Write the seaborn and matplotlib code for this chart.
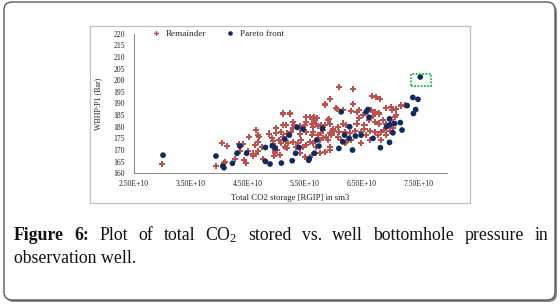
import numpy as np
import pandas as pd
import seaborn as sns
import matplotlib.pyplot as plt
from matplotlib.patches import FancyBboxPatch, Rectangle
from matplotlib.transforms import IdentityTransform
from matplotlib.ticker import FuncFormatter

# Values (x in units of 1e10 sm3, y in bar)
remainder_x = [3.00, 3.94, 4.08, 4.05, 4.13, 4.10, 4.27, 4.34, 4.41, 4.37, 4.44, 4.47,
               4.52, 4.51, 4.59, 4.59, 4.64, 4.65, 4.62, 4.68, 4.70, 4.68, 4.68, 4.75,
               4.77, 4.87, 4.92, 4.95, 4.94, 4.97, 4.98, 4.98, 4.96, 5.00, 5.00, 5.04,
               5.02,
               5.11, 5.29, 5.32, 5.59, 5.64, 5.67, 6.05, 6.17, 6.32, 6.41, 6.46, 6.52,
               6.67, 6.70, 6.73, 6.81, 6.92, 7.01, 7.03, 7.11, 7.19, 7.27,
               5.11, 5.17, 5.29, 5.42, 5.50, 5.53, 5.62, 5.64, 5.69, 5.73, 5.79, 5.85,
               5.91, 5.94, 6.00, 6.08, 6.17, 6.23, 6.41, 6.46, 6.55, 6.63, 6.73, 6.81,
               6.87, 6.93, 7.05, 7.08, 7.11,
               5.09, 5.12, 5.18, 5.26, 5.41, 5.53, 5.62, 5.64, 5.73, 5.79, 5.82, 5.88,
               5.94, 5.97, 6.02, 6.11, 6.20, 6.29, 6.38, 6.49, 6.55, 6.64, 6.73, 6.79,
               6.84, 6.90, 6.99, 7.05,
               5.09, 5.15, 5.21, 5.29, 5.35, 5.38, 5.44, 5.47, 5.53, 5.59, 5.64, 5.70,
               5.76, 5.82, 5.91, 5.94, 6.08, 6.14, 6.20, 6.23, 6.32, 6.49, 6.58, 6.64,
               6.84, 6.93,
               5.06, 5.18, 5.41, 5.50, 5.62, 5.76, 5.85, 5.94,
               5.12, 5.53, 5.60, 5.66, 5.71, 5.85, 5.94, 6.06, 6.10, 5.93, 6.34, 6.69,
               6.76, 6.83, 6.35, 7.20, 5.24, 5.85]
remainder_y = [163.9, 163.1, 164.3, 173.1, 171.6, 164.7, 166.0, 172.7, 172.6, 169.5, 165.7, 164.3,
               175.7, 169.7, 168.5, 167.4, 178.6, 168.3, 172.0, 176.3, 175.7, 173.5, 169.6, 171.4,
               166.3, 177.1, 175.0, 174.0, 172.6, 171.2, 169.8, 168.6, 167.3, 179.3, 177.2, 174.5,
               170.0,
               185.4, 182.1, 180.7, 184.0, 183.6, 183.1, 187.9, 187.1, 186.9, 186.4, 187.1, 185.0,
               187.1, 184.6, 186.4, 185.7, 187.9, 188.6, 187.1, 187.7, 189.1, 189.3,
               180.7, 180.7, 179.3, 180.3, 180.7, 182.1, 181.4, 180.0, 181.1, 180.3, 180.7, 180.7,
               182.9, 181.1, 178.9, 180.0, 181.4, 180.7, 181.4, 183.6, 180.7, 182.9, 182.1, 181.4,
               182.9, 181.1, 182.1, 184.3, 185.0,
               177.9, 175.7, 177.1, 177.9, 177.1, 177.9, 176.4, 177.9, 176.4, 177.4, 178.6, 175.7,
               177.4, 176.4, 178.3, 177.9, 177.9, 177.4, 178.3, 177.9, 178.9, 178.3, 177.9, 176.4,
               177.9, 178.6, 178.1, 179.3,
               172.9, 171.4, 172.9, 173.6, 171.4, 172.9, 174.3, 171.4, 172.1, 173.6, 172.9, 171.4,
               174.3, 175.0, 174.3, 171.4, 175.7, 174.3, 172.9, 173.6, 174.3, 172.9, 176.4, 174.3,
               174.3, 176.4,
               167.9, 170.7, 168.6, 167.1, 167.9, 168.6, 169.3, 170.0,
               186.1, 184.0, 184.0, 184.0, 183.6, 189.6, 192.1, 187.6, 197.1, 183.2, 196.1, 193.1,
               192.6, 191.8, 189.6, 189.4, 185.7, 189.5]

pareto_x = [3.01, 3.94, 4.06, 4.08, 4.23, 4.31, 4.36, 4.48, 4.81, 4.81, 4.89, 4.93,
            4.98, 5.09, 5.15, 5.23, 5.34, 5.28, 5.58, 5.57, 5.67, 5.75, 5.71, 5.81,
            5.37, 5.47, 5.40, 6.14, 6.10, 6.17, 6.20, 6.28, 6.29, 6.34, 6.39, 6.49,
            6.61, 6.58, 6.63, 6.70, 6.83, 6.94, 6.99, 6.99, 7.05, 7.08, 6.99, 7.18,
            7.21, 7.30, 7.40, 7.49, 7.41, 7.45, 7.53]
pareto_y = [167.8, 167.4, 163.1, 162.4, 164.3, 168.6, 171.7, 168.6, 165.1, 171.1, 164.0, 171.8,
            170.9, 164.4, 174.6, 176.4, 168.6, 165.4, 166.3, 165.6, 168.6, 171.7, 174.3, 179.3,
            179.7, 179.0, 171.1, 186.4, 170.7, 173.5, 176.4, 175.0, 180.0, 170.0, 176.0, 176.4,
            187.4, 186.4, 184.1, 175.0, 171.0, 180.1, 180.8, 173.3, 177.4, 181.4, 183.4, 181.8,
            178.6, 189.1, 192.6, 191.8, 185.7, 187.4, 201.4]

highlight_x = [7.37, 7.72]
highlight_y = [197.5, 202.8]

x_ticks = [2.5, 3.5, 4.5, 5.5, 6.5, 7.5]
y_ticks = list(range(160, 221, 5))

caption_line1 = ["Figure", "6:", "Plot", "of", "total", r"CO$\mathrm{_2}$", "stored", "vs.",
                 "well", "bottomhole", "pressure", "in"]
caption_line2 = "observation well."

W, H = 560, 306
serif = ['Liberation Serif', 'DejaVu Serif']

sns.set_style("white")
plt.rcParams['font.family'] = serif
plt.rcParams['mathtext.fontset'] = 'custom'
plt.rcParams['mathtext.rm'] = 'Liberation Serif'

df = pd.concat([
    pd.DataFrame({'x': np.array(remainder_x) * 1e10, 'y': remainder_y, 'set': 'Remainder'}),
    pd.DataFrame({'x': np.array(pareto_x) * 1e10, 'y': pareto_y, 'set': 'Pareto front'}),
])

fig = plt.figure(figsize=(W / 100, H / 100), dpi=100)
fig.patch.set_facecolor('white')

# outer rounded frame with a shadow, and the chart frame
px = IdentityTransform()
fig.patches.append(FancyBboxPatch((6, H - 302), 551, 298, boxstyle="round,pad=0,rounding_size=8",
                                  transform=px, fc='#8a8a8a', ec='none', zorder=-3))
fig.patches.append(FancyBboxPatch((4, H - 300), 551, 298, boxstyle="round,pad=0,rounding_size=8",
                                  transform=px, fc='white', ec='#5a5a5a', lw=1.0, zorder=-2))
fig.patches.append(Rectangle((90, H - 203), 380, 177, transform=px, fc='white',
                             ec='#c0c0c0', lw=0.9, zorder=-1))

ax = fig.add_axes([134 / W, 1 - 173.3 / H, 313 / W, 139.6 / H])
ax.patch.set_alpha(0)
sns.scatterplot(data=df, x='x', y='y', hue='set', style='set',
                palette={'Remainder': '#C0504D', 'Pareto front': '#0F2B5F'},
                markers={'Remainder': 'P', 'Pareto front': 'o'},
                hue_order=['Remainder', 'Pareto front'],
                size='set', sizes={'Remainder': 19, 'Pareto front': 17},
                linewidth=0, ax=ax, zorder=3)

ax.add_patch(Rectangle((highlight_x[0] * 1e10, highlight_y[0]),
                       (highlight_x[1] - highlight_x[0]) * 1e10, highlight_y[1] - highlight_y[0],
                       fill=False, ec='#1DBF4A', lw=1.3, ls=(0, (1, 0.8)), zorder=4))

ax.set_xlim(2.5e10, 8.0e10)
ax.set_ylim(160, 220)
ax.set_xticks([v * 1e10 for v in x_ticks])
ax.set_yticks(y_ticks)
ax.xaxis.set_major_formatter(FuncFormatter(lambda v, p: f"{v:.2E}"))
ax.tick_params(axis='both', labelsize=5.5, length=2.5, width=0.6, color='#868686',
               direction='out', labelcolor='#222222')
ax.tick_params(axis='y', pad=4)
ax.tick_params(axis='x', pad=2.5)
for side in ['top', 'right']:
    ax.spines[side].set_visible(False)
for side in ['left', 'bottom']:
    ax.spines[side].set_color('#868686')
    ax.spines[side].set_linewidth(0.7)

ax.set_xlabel("Total CO2 storage [RGIP] in sm3", fontsize=6.3, color='#222222', labelpad=4)
ax.set_ylabel("WBHP:P1 (Bar)", fontsize=5.8, color='#222222', labelpad=8)

handles, labels = ax.get_legend_handles_labels()
ax.legend(handles[:2], labels[:2], loc='center left', bbox_to_anchor=(0.04, 1.0), ncol=2,
          frameon=False, fontsize=6.6, handletextpad=0.1, columnspacing=1.6,
          markerscale=0.8, borderpad=0, borderaxespad=0)

# caption, first line justified between the frame margins
y1 = H - 240
y2 = H - 263
left, right = 14, 548
fs = 12.8
fig.canvas.draw()
r = fig.canvas.get_renderer()
words = []
for i, w in enumerate(caption_line1):
    weight = 'bold' if i < 2 else 'normal'
    words.append(fig.text(0, y1, w, fontsize=fs, fontweight=weight, va='baseline',
                          family=serif, color='#111111', transform=px))
widths = [t.get_window_extent(r).width for t in words]
gap = (right - left - sum(widths)) / (len(words) - 1)
x = left
for t, w in zip(words, widths):
    t.set_x(x)
    x += w + gap
fig.text(left, y2, caption_line2, fontsize=fs, va='baseline', family=serif,
         color='#111111', transform=px)

fig.savefig("out.png", dpi=100)
